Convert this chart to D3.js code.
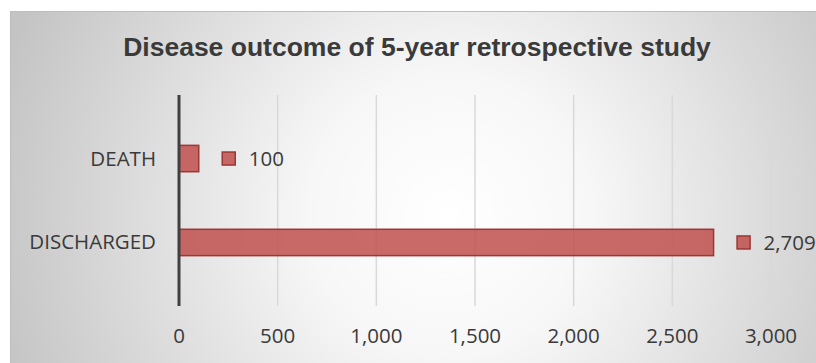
<!DOCTYPE html>
<html>
<head>
<meta charset="utf-8">
<script src="https://cdn.jsdelivr.net/npm/d3@7"></script>
<style>
  html, body { margin: 0; padding: 0; background: #ffffff; }
  svg { display: block; }
</style>
</head>
<body>
<svg id="chart-canvas" width="816" height="363"></svg>
<script>
// data
const categories = ["DEATH", "DISCHARGED"];
const outcomeValues = [100, 2709];
const tickValues = [0, 500, 1000, 1500, 2000, 2500, 3000];
const chartTitle = "Disease outcome of 5-year retrospective study";

const chartCanvas = d3.select("#chart-canvas");
const textColor = "#3a3a3a";
const labelFont = "'Open Sans', sans-serif";

function preparingBackground() {
  const defs = chartCanvas.append("defs");
  const grad = defs
    .append("radialGradient")
    .attr("id", "bg-gradient")
    .attr("gradientUnits", "userSpaceOnUse")
    .attr("cx", 450)
    .attr("cy", 215)
    .attr("r", 470);
  grad.append("stop").attr("offset", "0").attr("stop-color", "#ffffff");
  grad.append("stop").attr("offset", "0.3").attr("stop-color", "#f7f7f7");
  grad.append("stop").attr("offset", "1").attr("stop-color", "#c4c4c4");

  chartCanvas
    .append("rect")
    .attr("x", 10.5)
    .attr("y", 11.5)
    .attr("width", 820)
    .attr("height", 360)
    .attr("fill", "url(#bg-gradient)")
    .attr("stroke", "#bdbdbd")
    .attr("stroke-width", 1);
}

function preparingChart() {
  const x = d3.scaleLinear().domain([0, 3000]).range([179, 771]);
  const y = d3
    .scaleBand()
    .domain(categories)
    .range([95, 306])
    .paddingInner(0.686)
    .paddingOuter(0.6);

  // gridlines
  chartCanvas
    .append("g")
    .selectAll("line")
    .data(tickValues.filter((d) => d > 0))
    .enter()
    .append("line")
    .attr("x1", (d) => x(d))
    .attr("x2", (d) => x(d))
    .attr("y1", 95)
    .attr("y2", 306)
    .attr("stroke", "#d9d9d9")
    .attr("stroke-width", 1.5);

  // bars
  const rows = categories.map(function (name, i) {
    return { name: name, value: outcomeValues[i] };
  });

  chartCanvas
    .append("g")
    .selectAll("rect")
    .data(rows)
    .enter()
    .append("rect")
    .attr("x", x(0))
    .attr("y", (d) => y(d.name))
    .attr("width", (d) => x(d.value) - x(0))
    .attr("height", y.bandwidth())
    .attr("fill", "#c0504d")
    .attr("fill-opacity", 0.85)
    .attr("stroke", "#9b3734")
    .attr("stroke-width", 1.5);

  // value axis line
  chartCanvas
    .append("line")
    .attr("x1", x(0))
    .attr("x2", x(0))
    .attr("y1", 95)
    .attr("y2", 306)
    .attr("stroke", "#404040")
    .attr("stroke-width", 3);

  // data labels with legend key
  const labels = chartCanvas
    .append("g")
    .selectAll("g")
    .data(rows)
    .enter()
    .append("g")
    .attr("transform", function (d) {
      return "translate(" + x(d.value) + " " + (y(d.name) + y.bandwidth() / 2) + ")";
    });

  labels
    .append("rect")
    .attr("x", 23.5)
    .attr("y", -6.5)
    .attr("width", 13)
    .attr("height", 13)
    .attr("fill", "#c0504d")
    .attr("fill-opacity", 0.85)
    .attr("stroke", "#9b3734")
    .attr("stroke-width", 1.5);

  labels
    .append("text")
    .attr("x", 50)
    .attr("y", 7.5)
    .attr("fill", textColor)
    .style("font-family", labelFont)
    .style("font-size", "20.5px")
    .text((d) => d3.format(",")(d.value));

  // category labels
  chartCanvas
    .append("g")
    .selectAll("text")
    .data(categories)
    .enter()
    .append("text")
    .attr("x", 156)
    .attr("y", (d) => y(d) + y.bandwidth() / 2 + 7)
    .attr("text-anchor", "end")
    .attr("fill", textColor)
    .style("font-family", labelFont)
    .style("font-size", "20.5px")
    .text((d) => d);

  // tick labels
  chartCanvas
    .append("g")
    .selectAll("text")
    .data(tickValues)
    .enter()
    .append("text")
    .attr("x", (d) => x(d))
    .attr("y", 343)
    .attr("text-anchor", "middle")
    .attr("fill", textColor)
    .style("font-family", labelFont)
    .style("font-size", "20.5px")
    .text((d) => d3.format(",")(d));

  chartCanvas
    .append("text")
    .attr("x", 417)
    .attr("y", 56)
    .attr("text-anchor", "middle")
    .attr("fill", textColor)
    .style("font-family", "'Liberation Sans', Arial, sans-serif")
    .style("font-weight", "bold")
    .style("font-size", "26.5px")
    .text(chartTitle);
}

preparingBackground();
preparingChart();
</script>
</body>
</html>
